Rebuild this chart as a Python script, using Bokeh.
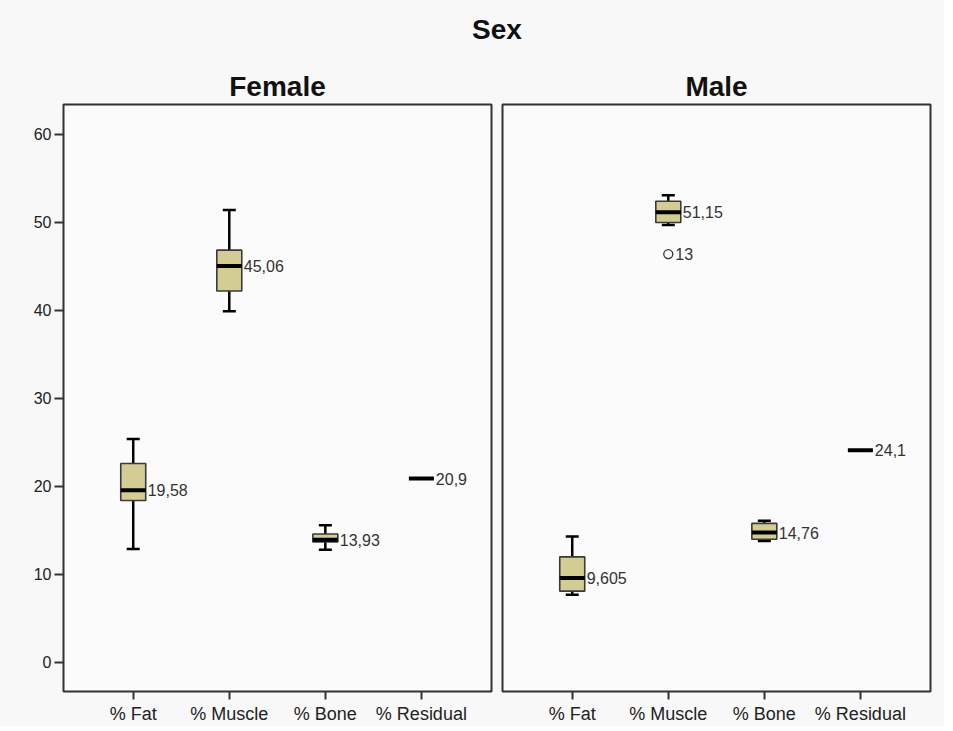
import numpy as np
from bokeh.plotting import figure
from bokeh.models import ColumnDataSource, Range1d, FixedTicker, Div
from bokeh.layouts import row, column
from bokeh.core.properties import value
from bokeh.embed import file_html
from bokeh.resources import INLINE

# ---- data ----
categories = ["% Fat", "% Muscle", "% Bone", "% Residual"]
positions = [1, 2, 3, 4]

female_low = [12.9, 39.9, 12.8, 20.9]
female_q1 = [18.4, 42.2, 13.7, 20.9]
female_median = [19.58, 45.06, 13.93, 20.9]
female_q3 = [22.6, 46.85, 14.6, 20.9]
female_high = [25.4, 51.4, 15.6, 20.9]

male_low = [7.7, 49.7, 13.8, 24.1]
male_q1 = [8.1, 50.0, 14.0, 24.1]
male_median = [9.605, 51.15, 14.76, 24.1]
male_q3 = [12.0, 52.4, 15.8, 24.1]
male_high = [14.3, 53.1, 16.1, 24.1]

male_outlier_cat = [2]
male_outlier_val = [46.4]
male_outlier_id = ["13"]

y_ticks = [0, 10, 20, 30, 40, 50, 60]

FONT = "Liberation Sans"
BOX_W = 0.26
BOX_FILL = "#D3CC93"
BG = "#f8f8f8"


def make_panel(title, low, q1, med, q3, high, show_y, border_left, border_right,
               out_x=None, out_y=None, out_lbl=None):
    p = figure(frame_width=428, frame_height=587, output_backend="svg",
               toolbar_location=None, x_range=Range1d(0.274, 4.73),
               y_range=Range1d(-3.3, 63.4), min_border_left=border_left,
               min_border_right=border_right, min_border_top=44, min_border_bottom=32,
               background_fill_color="#fbfbfb", border_fill_color=BG)
    p.title.text = title
    p.title.align = "center"
    p.title.text_font = FONT
    p.title.text_font_size = "28px"
    p.title.text_font_style = "bold"
    p.title.text_color = "#111111"
    p.title.standoff = 6

    p.outline_line_color = "#333333"
    p.outline_line_width = 2
    p.xgrid.visible = False
    p.ygrid.visible = False

    p.xaxis.ticker = FixedTicker(ticks=positions)
    p.xaxis.major_label_overrides = {pos: cat for pos, cat in zip(positions, categories)}
    p.xaxis.axis_line_color = None
    p.xaxis.major_tick_line_color = "#333333"
    p.xaxis.major_tick_line_width = 2
    p.xaxis.major_tick_out = 8
    p.xaxis.major_tick_in = 0
    p.xaxis.minor_tick_line_color = None
    p.xaxis.major_label_text_font = FONT
    p.xaxis.major_label_text_font_size = "18px"
    p.xaxis.major_label_text_color = "#222222"
    p.xaxis.major_label_standoff = 4

    if show_y:
        p.yaxis.ticker = FixedTicker(ticks=y_ticks)
        p.yaxis.axis_line_color = None
        p.yaxis.major_tick_line_color = "#333333"
        p.yaxis.major_tick_line_width = 2
        p.yaxis.major_tick_out = 9
        p.yaxis.major_tick_in = 0
        p.yaxis.minor_tick_line_color = None
        p.yaxis.major_label_text_font = FONT
        p.yaxis.major_label_text_font_size = "16px"
        p.yaxis.major_label_text_color = "#222222"
        p.yaxis.major_label_standoff = 3
    else:
        p.yaxis.visible = False

    xs = np.array(positions, dtype=float)
    src = ColumnDataSource(dict(
        x=xs, low=low, q1=q1, med=med, q3=q3, high=high,
        lbl_x=xs + BOX_W / 2,
        lbl=[str(v).replace(".", ",") for v in med],
    ))
    # whiskers
    p.segment(x0="x", y0="q3", x1="x", y1="high", source=src,
              line_color="black", line_width=2.5)
    p.segment(x0="x", y0="q1", x1="x", y1="low", source=src,
              line_color="black", line_width=2.5)
    p.scatter(x="x", y="high", source=src, marker="dash", size=13,
              line_color="black", line_width=2.5)
    p.scatter(x="x", y="low", source=src, marker="dash", size=13,
              line_color="black", line_width=2.5)
    # boxes
    p.vbar(x="x", width=BOX_W, bottom="q1", top="q3", source=src,
           fill_color=BOX_FILL, line_color="#3a3a3a", line_width=1.6)
    # medians
    p.rect(x="x", y="med", width=BOX_W, height=4, height_units="screen",
           source=src, fill_color="black", line_color=None)
    # median labels
    p.text(x="lbl_x", y="med", text="lbl", source=src, x_offset=2,
           text_baseline="middle", text_align="left",
           text_font=value(FONT), text_font_size="16px", text_color="#333333")

    if out_x is not None:
        osrc = ColumnDataSource(dict(x=out_x, y=out_y, lbl=out_lbl))
        p.scatter(x="x", y="y", source=osrc, marker="circle", size=9,
                  fill_color=None, line_color="#333333", line_width=1.3)
        p.text(x="x", y="y", text="lbl", source=osrc, x_offset=7,
               text_baseline="middle", text_align="left",
               text_font=value(FONT), text_font_size="16px", text_color="#333333")
    return p


p1 = make_panel("Female", female_low, female_q1, female_median, female_q3, female_high,
                True, 63, 5)
p2 = make_panel("Male", male_low, male_q1, male_median, male_q3, male_high,
                False, 6, 4, male_outlier_cat, male_outlier_val, male_outlier_id)

header = Div(text="Sex", width=934, height=50,
             styles={"text-align": "center", "font-family": "'Liberation Sans', Arial, sans-serif",
                     "font-size": "28px", "font-weight": "bold", "line-height": "50px",
                     "color": "#111111", "padding-left": "50px",
                     "box-sizing": "border-box"})

layout = column(header, row(p1, p2), styles={"background-color": BG})

open("out.html", "w").write(file_html(layout, INLINE))
